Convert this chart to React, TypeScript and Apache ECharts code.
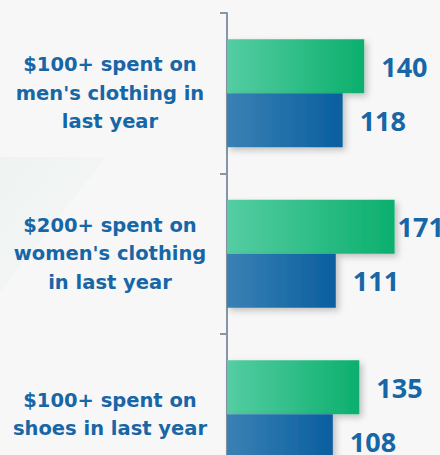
import React, { useEffect, useRef } from "react";
import * as echarts from "echarts";

const categories = [
  "$100+ spent on\nmen's clothing in\nlast year",
  "$200+ spent on\nwomen's clothing\nin last year",
  "$100+ spent on\nshoes in last year",
];
const greenValues = [140, 171, 135];
const blueValues = [118, 111, 108];

export default function App() {
  const ref = useRef<HTMLDivElement>(null);
  useEffect(() => {
    document.body.style.margin = "0";
    const chart = echarts.init(ref.current!, null, { renderer: "svg" });
    const labelColor = "#1766a6";
    const labelBase = {
      show: true,
      position: "right" as const,
      distance: 17,
      color: labelColor,
      fontSize: 27,
      fontWeight: "bold" as const,
      fontFamily: "'Open Sans', sans-serif",
    };
    chart.setOption({
      animation: false,
      backgroundColor: "#f7f7f7",
      graphic: [
        {
          type: "polygon",
          silent: true,
          z: -10,
          shape: { points: [[0, 157], [106, 157], [0, 292]] },
          style: {
            fill: new echarts.graphic.LinearGradient(0, 0, 1, 1, [
              { offset: 0, color: "#eef3f2" },
              { offset: 1, color: "#f5f7f6" },
            ]),
          },
        },
      ],
      grid: {
        left: 227,
        width: 196,
        top: 13,
        height: 481.5,
        containLabel: false,
        outerBoundsMode: "none",
      },
      xAxis: {
        type: "value",
        min: 0,
        max: 200,
        show: false,
      },
      yAxis: {
        type: "category",
        inverse: true,
        data: categories,
        axisLine: { show: true, lineStyle: { color: "#8796a6", width: 2 } },
        axisTick: { show: true, length: 7, lineStyle: { color: "#8796a6", width: 2 } },
        axisLabel: {
          align: "center",
          margin: 117,
          color: labelColor,
          fontSize: 19.5,
          fontWeight: "bold",
          fontFamily: "'DejaVu Sans', sans-serif",
          lineHeight: 28.5,
        },
        splitLine: { show: false },
      },
      series: [
        {
          type: "bar",
          data: greenValues.map((v, i) =>
            i === 1 ? { value: v, label: { distance: 3 } } : v
          ),
          barGap: "0%",
          barCategoryGap: "32.7%",
          itemStyle: {
            color: new echarts.graphic.LinearGradient(0, 0, 1, 0, [
              { offset: 0, color: "#55cda3" },
              { offset: 1, color: "#0baf6d" },
            ]),
            shadowColor: "rgba(0,0,0,0.22)",
            shadowBlur: 6,
            shadowOffsetX: 3,
            shadowOffsetY: 3,
          },
          label: labelBase,
        },
        {
          type: "bar",
          data: blueValues,
          itemStyle: {
            color: new echarts.graphic.LinearGradient(0, 0, 1, 0, [
              { offset: 0, color: "#3a81b4" },
              { offset: 1, color: "#0a5e9f" },
            ]),
            shadowColor: "rgba(0,0,0,0.22)",
            shadowBlur: 6,
            shadowOffsetX: 3,
            shadowOffsetY: 3,
          },
          label: labelBase,
        },
      ],
    });
    return () => chart.dispose();
  }, []);
  return <div ref={ref} style={{ width: 440, height: 455 }} />;
}
